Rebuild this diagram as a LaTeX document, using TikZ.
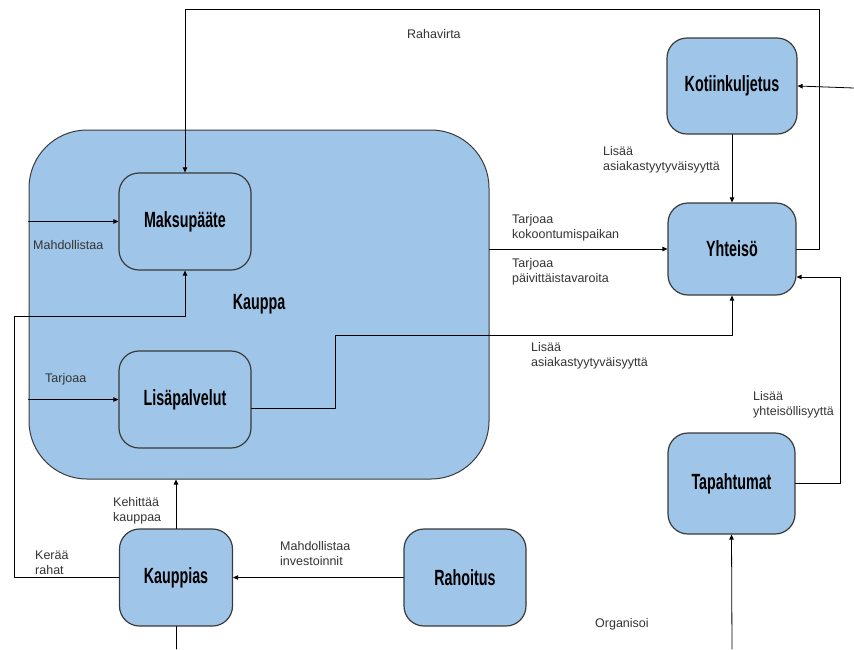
\documentclass[tikz,border=0pt]{standalone}
\usepackage{fontspec}
\setmainfont{Liberation Sans}
\newfontfamily\boxfont[FakeStretch=0.65]{Liberation Sans}
\usetikzlibrary{arrows.meta}
\definecolor{boxblue}{HTML}{9FC5E8}
\definecolor{edgegray}{HTML}{3A3A3A}
\definecolor{labelgray}{HTML}{333333}

\begin{document}
\begin{tikzpicture}[x=1pt, y=-1pt, line cap=round, line join=round,
  box/.style={draw=edgegray, line width=1.2pt, fill=boxblue, rounded corners=20pt,
    minimum width=#1, minimum height=97pt, inner sep=0pt,
    font=\boxfont\bfseries\fontsize{22}{24}\selectfont},
  box/.default=132pt,
  conn/.style={draw=black, line width=0.8pt, -{Triangle[length=5pt,width=4.5pt]}},
  plain/.style={draw=black, line width=0.8pt},
  lbl/.style={font=\fontsize{12.5}{15}\selectfont, text=labelgray, align=left,
    anchor=west, inner sep=0pt}]

% Fix the page size
\useasboundingbox (0,0) rectangle (854,649);

% The shop and its parts
\node[box, rounded corners=58pt, minimum width=460pt, minimum height=349pt,
  line width=1pt] (kauppa) at (259,304.5) {Kauppa};
\node[box] (maksu) at (185,221.5) {Maksupääte};
\node[box] (lisa) at (185,399.5) {Lisäpalvelut};

% Outer boxes
\node[box=113pt] (kauppias) at (176,577.5) {Kauppias};
\node[box=122pt] (rahoitus) at (465,577.5) {Rahoitus};
\node[box=130pt, minimum height=96pt] (koti) at (732,86) {Kotiinkuljetus};
\node[box=128pt, minimum height=92pt] (yhteiso) at (732,249) {Yhteisö};
\node[box=127pt, minimum height=101pt] (tapahtumat) at (731.5,483.5) {Tapahtumat};

% Bends and free ends
\coordinate (rahaTop) at (819,9);
\coordinate (kotiIn) at (854,88);
\coordinate (lisaBend) at (335,335);
\coordinate (tapBend) at (840,277);
\coordinate (orgIn) at (732,649);
\coordinate (keraaBend) at (14,316);
\coordinate (kauppiasOut) at (176,649);

% Connectors
\draw[conn] (yhteiso.east) -| (rahaTop) -| (maksu.north);
\draw[conn] (kotiIn) -- (koti.east);
\draw[conn] (koti) -- (yhteiso);
\draw[conn] (kauppa.east |- yhteiso.west) -- (yhteiso.west);
\draw[conn] ([yshift=-9]lisa.east) -| (lisaBend) -| (yhteiso.south);
\draw[conn] (tapahtumat.east) -| (tapBend) -- (tapBend -| yhteiso.east);
\draw[conn] (orgIn) -- (tapahtumat.south);
\draw[conn] (kauppias.west) -| (keraaBend) -| (maksu.south);
\draw[conn] (kauppias.north) -- (kauppias.north |- kauppa.south);
\draw[conn] (rahoitus.west) -- (kauppias.east);
\draw[plain] (kauppias.south) -- (kauppiasOut);
\draw[conn] (kauppa.west |- maksu.west) -- (maksu.west);
\draw[conn] (kauppa.west |- lisa.west) -- (lisa.west);

% Labels
\node[lbl] (lRaha) at (407,34) {Rahavirta};
\node[lbl] (lKoti) at (603,159.5) {Lisää\\asiakastyytyväisyyttä};
\node[lbl] (lKokoon) at (512,227.5) {Tarjoaa\\kokoontumispaikan};
\node[lbl] (lPaiv) at (512,272) {Tarjoaa\\päivittäistavaroita};
\node[lbl] (lLisa) at (531,355.5) {Lisää\\asiakastyytyväisyyttä};
\node[lbl] (lYht) at (753,404.5) {Lisää\\yhteisöllisyyttä};
\node[lbl] (lOrg) at (595,624) {Organisoi};
\node[lbl] (lKeraa) at (35,562.5) {Kerää\\rahat};
\node[lbl] (lKehit) at (113,510.5) {Kehittää\\kauppaa};
\node[lbl] (lInv) at (280,553.5) {Mahdollistaa\\investoinnit};
\node[lbl] (lMahd) at (33,245) {Mahdollistaa};
\node[lbl] (lTarj) at (45,379) {Tarjoaa};

\end{tikzpicture}
\end{document}
